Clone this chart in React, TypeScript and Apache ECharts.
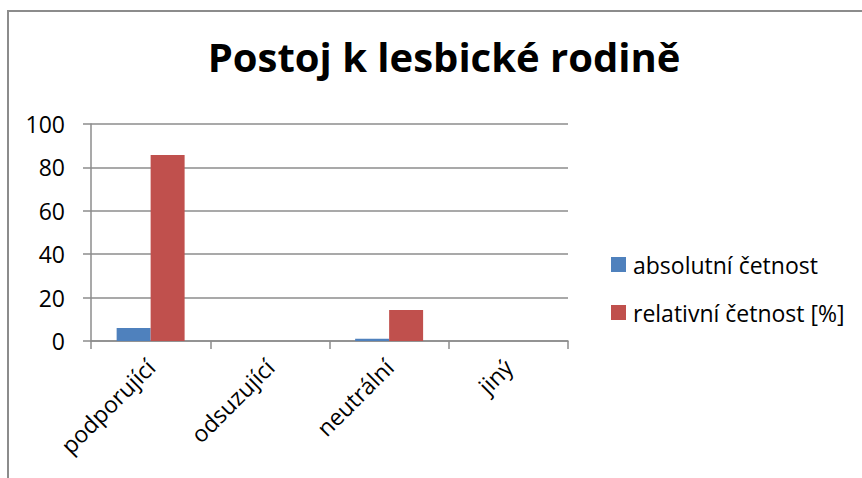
import React, { useEffect, useRef } from "react";
import * as echarts from "echarts";

const categories = ["podporující", "odsuzující", "neutrální", "jiný"];
const absolutni = [6, 0, 1, 0];
const relativni = [85.7, 0, 14.3, 0];
const seriesNames = ["absolutní četnost", "relativní četnost [%]"];
const titleText = "Postoj k lesbické rodině";

const FONT = "'Open Sans', sans-serif";

export default function App() {
  const ref = useRef<HTMLDivElement>(null);
  useEffect(() => {
    if (!ref.current) return;
    const chart = echarts.init(ref.current, undefined, { renderer: "svg" });
    chart.setOption({
      animation: false,
      backgroundColor: "#ffffff",
      textStyle: { fontFamily: FONT, color: "#000" },
      title: {
        text: titleText,
        left: 444,
        textAlign: "center",
        top: 36,
        padding: 0,
        textStyle: { fontFamily: FONT, fontSize: 40, fontWeight: "bold", color: "#000" },
      },
      graphic: [
        {
          type: "rect",
          shape: { x: 8, y: 11, width: 900, height: 520 },
          style: { fill: "none", stroke: "#8c8c8c", lineWidth: 2 },
          silent: true,
        },
      ],
      legend: {
        orient: "vertical",
        left: 611,
        top: 253,
        padding: 0,
        itemWidth: 15,
        itemHeight: 15,
        itemGap: 25,
        icon: "rect",
        textStyle: { fontFamily: FONT, fontSize: 23, color: "#000", padding: [12, 0, 0, 2] },
        data: seriesNames,
      },
      grid: { left: 91, right: 294, top: 124, bottom: 137, containLabel: false },
      xAxis: {
        type: "category",
        data: categories,
        axisLine: { lineStyle: { color: "#8c8c8c", width: 1.5 } },
        axisTick: { show: true, length: 8, alignWithLabel: false, lineStyle: { color: "#8c8c8c", width: 1.5 } },
        axisLabel: { rotate: 45, fontFamily: FONT, fontSize: 23, color: "#000", margin: 22, interval: 0 },
      },
      yAxis: {
        type: "value",
        min: 0,
        max: 100,
        interval: 20,
        axisLine: { show: true, lineStyle: { color: "#8c8c8c", width: 1.5 } },
        axisTick: { show: true, length: 8, lineStyle: { color: "#8c8c8c", width: 1.5 } },
        splitLine: { show: true, lineStyle: { color: "#8c8c8c", width: 1.5 } },
        axisLabel: { fontFamily: FONT, fontSize: 23, color: "#000", margin: 26 },
      },
      series: [
        {
          name: seriesNames[0],
          type: "bar",
          data: absolutni,
          itemStyle: { color: "#4F81BD" },
          barGap: "0%",
          barCategoryGap: "43%",
        },
        {
          name: seriesNames[1],
          type: "bar",
          data: relativni,
          itemStyle: { color: "#C0504D" },
          barGap: "0%",
          barCategoryGap: "43%",
        },
      ],
    });
    return () => chart.dispose();
  }, []);
  return (
    <div
      ref={ref}
      style={{ position: "absolute", left: 0, top: 0, width: 862, height: 478 }}
    />
  );
}
